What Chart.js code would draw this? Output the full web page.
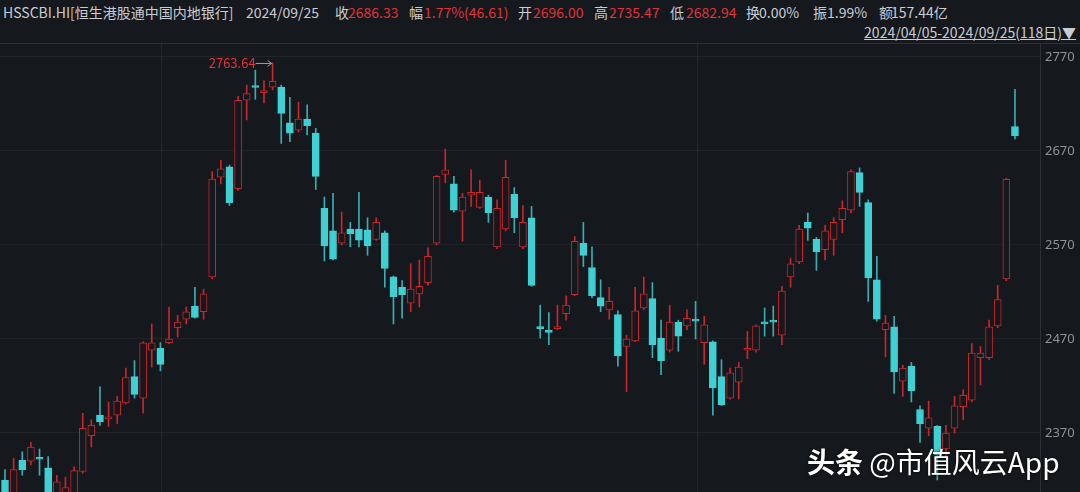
<!DOCTYPE html>
<html>
<head>
<meta charset="utf-8">
<script src="https://cdn.jsdelivr.net/npm/chart.js@4.4.1/dist/chart.umd.min.js"></script>
<style>
  html, body { margin: 0; padding: 0; background: #15181d; }
  body { width: 1080px; height: 492px; position: relative; overflow: hidden;
    font-family: "Noto Sans CJK SC", "Noto Sans", sans-serif; color: #c9cdd3; }
  .h { position: absolute; top: 2px; font-size: 14px; white-space: pre; line-height: 20px; }
  .r { color: #e0333b; }
  .range { position: absolute; right: 4px; top: 22px; font-size: 14px; line-height: 20px;
    text-decoration: underline; color: #c9cdd3; }
  .sep { position: absolute; left: 0; top: 43px; width: 1080px; height: 1px; background: #2c3037; }
  #wrap { position: absolute; left: 0; top: 44px; width: 1080px; height: 448px; }
  .wm { position: absolute; left: 807px; top: 442px; font-size: 28px; color: #fff; white-space: pre;
    text-shadow: 0 0 3px rgba(0,0,0,0.8); line-height: 38px; }
  .wm b { font-weight: 700; }
</style>
</head>
<body>
<div class="h" style="left:3px">HSSCBI.HI[恒生港股通中国内地银行]</div>
<div class="h" style="left:246px">2024/09/25</div>
<div class="h" style="left:335px">收</div><div class="h r" style="left:348px">2686.33</div>
<div class="h" style="left:409px">幅</div><div class="h r" style="left:424px">1.77%(46.61)</div>
<div class="h" style="left:518px">开</div><div class="h r" style="left:533px">2696.00</div>
<div class="h" style="left:594px">高</div><div class="h r" style="left:609px">2735.47</div>
<div class="h" style="left:670px">低</div><div class="h r" style="left:686px">2682.94</div>
<div class="h" style="left:746px">换</div><div class="h" style="left:759px">0.00%</div>
<div class="h" style="left:813px">振</div><div class="h" style="left:827px">1.99%</div>
<div class="h" style="left:879px">额</div><div class="h" style="left:891px">157.44亿</div>
<div class="range">2024/04/05-2024/09/25(118日)▼</div>
<div class="sep"></div>
<div id="wrap"><canvas id="kline" width="1080" height="448"></canvas></div>
<div class="wm"><b>头条</b> @市值风云App</div>
<script>
// daily OHLC, 2024/04/05 - 2024/09/25 (118 trading days)
const open = [
  2320, 2298, 2341, 2340, 2343, 2333, 2300, 2300, 2305, 2329,
  2367, 2389, 2385, 2389, 2402, 2430, 2407, 2458, 2460, 2466,
  2482, 2491, 2505, 2499, 2536, 2642, 2653, 2630, 2724, 2739,
  2732, 2738, 2738, 2700, 2692, 2704, 2689, 2609, 2585, 2572,
  2587, 2587, 2586, 2576, 2583, 2536, 2525, 2508, 2518, 2530,
  2572, 2645, 2635, 2606, 2623, 2610, 2621, 2568, 2587, 2624,
  2568, 2599, 2483, 2478, 2481, 2497, 2517, 2572, 2546, 2514,
  2501, 2496, 2462, 2468, 2503, 2513, 2471, 2458, 2488, 2484,
  2490, 2466, 2467, 2430, 2407, 2424, 2458, 2458, 2487, 2489,
  2474, 2536, 2552, 2594, 2576, 2565, 2576, 2597, 2607, 2647,
  2615, 2533, 2480, 2483, 2425, 2441, 2395, 2375, 2377, 2353,
  2375, 2398, 2405, 2450, 2450, 2484, 2534, 2696
];
const high = [
  2331, 2343, 2350, 2360, 2353, 2345, 2325, 2323, 2334, 2391,
  2384, 2419, 2403, 2409, 2439, 2447, 2467, 2486, 2466, 2504,
  2495, 2504, 2525, 2523, 2648, 2660, 2655, 2728, 2740, 2756,
  2745, 2763.64, 2740, 2727, 2722, 2719, 2694, 2621, 2625, 2605,
  2594, 2626, 2599, 2599, 2585, 2537, 2532, 2550, 2554, 2567,
  2644, 2672, 2643, 2625, 2650, 2639, 2623, 2618, 2660, 2631,
  2612, 2611, 2506, 2498, 2506, 2516, 2579, 2594, 2568, 2533,
  2525, 2500, 2474, 2525, 2536, 2530, 2490, 2506, 2490, 2501,
  2510, 2494, 2468, 2448, 2439, 2445, 2478, 2485, 2503, 2505,
  2526, 2556, 2591, 2604, 2578, 2591, 2599, 2617, 2650, 2652,
  2618, 2558, 2495, 2494, 2442, 2445, 2399, 2404, 2378, 2378,
  2409, 2416, 2465, 2462, 2490, 2527, 2641, 2735.47
];
const low = [
  2288, 2292, 2325, 2336, 2325, 2296, 2295, 2298, 2300, 2327,
  2355, 2378, 2377, 2380, 2401, 2407, 2391, 2440, 2436, 2465,
  2472, 2486, 2492, 2491, 2534, 2635, 2612, 2628, 2703, 2725,
  2721, 2735, 2678, 2680, 2690, 2687, 2629, 2553, 2554, 2570,
  2568, 2568, 2559, 2575, 2525, 2486, 2492, 2499, 2504, 2527,
  2570, 2636, 2605, 2574, 2611, 2609, 2594, 2566, 2585, 2583,
  2566, 2526, 2471, 2464, 2480, 2490, 2516, 2547, 2514, 2499,
  2491, 2441, 2414, 2467, 2501, 2450, 2432, 2456, 2457, 2480,
  2470, 2443, 2389, 2399, 2406, 2406, 2449, 2456, 2473, 2473,
  2464, 2525, 2550, 2575, 2543, 2554, 2559, 2583, 2604, 2611,
  2510, 2489, 2451, 2412, 2409, 2403, 2360, 2367, 2320, 2345,
  2370, 2384, 2403, 2421, 2448, 2482, 2532, 2682.94
];
const close = [
  2295, 2331, 2331, 2355, 2342, 2300, 2318, 2312, 2330, 2375,
  2378, 2382, 2386, 2404, 2429, 2411, 2466, 2466, 2443, 2470,
  2488, 2499, 2493, 2518, 2640, 2651, 2615, 2724, 2731, 2737.5,
  2734, 2744, 2710, 2689, 2704, 2697, 2643, 2569, 2555, 2583,
  2582, 2575, 2569, 2594, 2545, 2515, 2517, 2523, 2526, 2558,
  2643, 2650, 2607, 2621, 2626, 2626, 2604, 2609, 2642, 2599,
  2594, 2527, 2481, 2477, 2482, 2506, 2574, 2559, 2516, 2505,
  2510, 2452, 2470, 2500, 2518, 2464, 2447, 2488, 2473, 2492,
  2489, 2485, 2418, 2400, 2434, 2440, 2459, 2484, 2486, 2488,
  2521, 2550, 2587, 2588, 2563, 2585, 2594, 2609, 2648, 2626,
  2535, 2491, 2487, 2435, 2439, 2415, 2380, 2386, 2347, 2370,
  2399, 2410, 2455, 2455, 2483, 2512, 2639.72, 2686.33
];
const yTicks = [2370, 2470, 2570, 2670, 2770];
// vertical separators (month marks), in candle index units
const sepIdx = [18.1, 80.2];

const UP = '#c8262c', DOWN = '#3fd0d4', BG = '#15181d';
const isUp = close.map((c, i) => c >= open[i]);

const bodies = close.map((c, i) => ({ x: i, y: [open[i], c] }));
const wicks = close.map((c, i) => ({ x: i, y: [low[i], high[i]] }));

let maxIdx = 0;
high.forEach((h, i) => { if (h > high[maxIdx]) maxIdx = i; });

const vLines = {
  id: 'vLines',
  beforeDatasetsDraw(chart) {
    const { ctx, scales, chartArea } = chart;
    ctx.save();
    ctx.strokeStyle = 'rgba(255,255,255,0.06)';
    ctx.lineWidth = 1;
    sepIdx.forEach(v => {
      const x = Math.round(scales.x.getPixelForValue(v)) + 0.5;
      ctx.beginPath();
      ctx.moveTo(x, chartArea.top);
      ctx.lineTo(x, chartArea.bottom);
      ctx.stroke();
    });
    ctx.restore();
  }
};

// label for the highest price with a little arrow
const maxLabel = {
  id: 'maxLabel',
  afterDatasetsDraw(chart) {
    const { ctx, scales } = chart;
    const x = scales.x.getPixelForValue(maxIdx);
    const y = scales.y.getPixelForValue(high[maxIdx]);
    ctx.save();
    ctx.strokeStyle = '#9aa0a6';
    ctx.lineWidth = 1;
    ctx.beginPath();
    ctx.moveTo(x - 17, y + 0.5);
    ctx.lineTo(x - 1, y + 0.5);
    ctx.moveTo(x - 5, y - 2.5);
    ctx.lineTo(x - 1, y + 0.5);
    ctx.lineTo(x - 5, y + 3.5);
    ctx.stroke();
    ctx.fillStyle = '#e0333b';
    ctx.font = '13px "Noto Sans CJK SC", "Noto Sans", sans-serif';
    ctx.textAlign = 'right';
    ctx.textBaseline = 'middle';
    ctx.fillText(high[maxIdx].toFixed(2), x - 17, y);
    ctx.restore();
  }
};

new Chart(document.getElementById('kline'), {
  type: 'bar',
  data: {
    datasets: [
      {
        label: 'body',
        data: bodies,
        order: 1,
        grouped: false,
        barThickness: 7,
        minBarLength: 2,
        borderWidth: 1,
        borderSkipped: false,
        borderColor: isUp.map(u => u ? UP : DOWN),
        backgroundColor: isUp.map(u => u ? BG : DOWN)
      },
      {
        label: 'wick',
        data: wicks,
        order: 2,
        grouped: false,
        barThickness: 1,
        borderWidth: 0,
        backgroundColor: isUp.map(u => u ? UP : '#38aeb3')
      }
    ]
  },
  options: {
    responsive: false,
    animation: false,
    layout: { padding: 0 },
    plugins: { legend: { display: false }, tooltip: { enabled: false } },
    scales: {
      x: {
        type: 'linear',
        min: -0.58,
        max: 119.9,
        offset: false,
        display: false
      },
      y: {
        position: 'right',
        min: 2307.2,
        max: 2783.8,
        afterBuildTicks: s => { s.ticks = yTicks.map(v => ({ value: v })); },
        afterFit: s => { s.width = 40; s.paddingTop = 0; s.paddingBottom = 0; },
        ticks: {
          color: '#8e939a',
          padding: 5,
          font: { size: 13, family: '"Noto Sans", sans-serif' },
          callback: v => v
        },
        grid: { color: 'rgba(255,255,255,0.05)', drawTicks: false },
        border: { display: true, color: '#2c3037' }
      }
    }
  },
  plugins: [vLines, maxLabel]
});
</script>
</body>
</html>
